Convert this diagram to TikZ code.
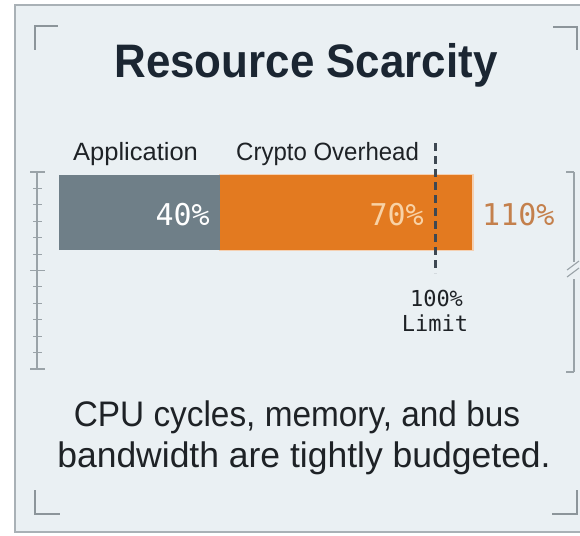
\documentclass[tikz,border=0pt]{standalone}
\usepackage{fontspec}
\setmainfont{Liberation Sans}
\newfontfamily\monofont{DejaVu Sans Mono}
\definecolor{panelbg}{HTML}{EAF0F3}
\definecolor{panelline}{HTML}{A9B1B6}
\definecolor{bracket}{HTML}{8C959A}
\definecolor{titleink}{HTML}{1B2632}
\definecolor{textink}{HTML}{1E2226}
\definecolor{appgrey}{HTML}{6F7F88}
\definecolor{cryptoorange}{HTML}{E37A20}
\definecolor{peach}{HTML}{F8D2A6}
\definecolor{overink}{HTML}{C4804C}
\definecolor{limitink}{HTML}{3E4852}
\definecolor{scaleink}{HTML}{9AA3A8}
\tikzset{
  cornerline/.style={draw=bracket, line width=1.6pt},
  scaleline/.style={draw=scaleink, line width=1.1pt},
  barlabel/.style={inner sep=0pt, text=textink, font=\fontsize{25}{29}\selectfont},
  pctlabel/.style={inner sep=0pt, font=\monofont\fontsize{30}{34}\selectfont},
  limitlabel/.style={inner sep=0pt, text=textink, font=\monofont\fontsize{22}{26}\selectfont},
  bodytext/.style={inner sep=0pt, text=textink, font=\fontsize{35.5}{42}\selectfont}
}
\begin{document}
\begin{tikzpicture}[x=1pt, y=-1pt]
\useasboundingbox (0,0) rectangle (580,535);
\fill[white] (0,0) rectangle (580,535);
% panel
\draw[panelline, fill=panelbg, line width=2pt] (15,5) rectangle (590,532);
% corner brackets
\draw[cornerline] (35,50) -- (35,26) -- (58,26);
\draw[cornerline] (553,27) -- (577,27) -- (577,50);
\draw[cornerline] (35,490) -- (35,514) -- (60,514);
\draw[cornerline] (552,514) -- (577,514) -- (577,490);
% title
\node[anchor=base, inner sep=0pt, text=titleink] (title) at (306,77)
  {\scalebox{0.934}[1]{\fontsize{47}{52}\selectfont\bfseries Resource Scarcity}};
% legend labels
\node[barlabel, anchor=base west] (applbl) at (73,160) {\scalebox{1.02}[1]{Application}};
\node[barlabel, anchor=base west] (cryptolbl) at (236,160) {\scalebox{0.96}[1]{Crypto Overhead}};
% bar segments
\fill[cryptoorange!35] (219,174) rectangle (473.5,251);
\fill[cryptoorange] (219,175) rectangle (472,250);
\fill[appgrey] (59,175) rectangle (220,250);
\node[pctlabel, text=white, anchor=east] (app) at (210,215) {40\%};
\node[pctlabel, text=peach, anchor=east] (crypto) at (424,215) {70\%};
\node[pctlabel, text=overink, anchor=west] (total) at (482,215) {110\%};
% 100% limit marker
\coordinate (limtop) at (435,143);
\coordinate (limbot) at (435,273);
\draw[limitink, line width=3pt, dash pattern=on 8pt off 5pt] (limtop) -- (limbot);
\node[limitlabel] (limpct) at (436.5,298) {100\%};
\node[limitlabel] (limtxt) at (435,323) {Limit};
% left ruler
\draw[scaleline] (37,172) -- (37,369);
\foreach \i in {0,...,12}{
  \pgfmathsetmacro{\yy}{172+\i*197/12}
  \ifnum\i=0 \draw[scaleline] (30,\yy) -- (45,\yy);
  \else\ifnum\i=6 \draw[scaleline] (30,\yy) -- (45,\yy);
  \else\ifnum\i=12 \draw[scaleline] (30,\yy) -- (45,\yy);
  \else \draw[scaleline] (33,\yy) -- (42,\yy);
  \fi\fi\fi
}
% right ruler with break
\draw[scaleline] (574,172) -- (574,262);
\draw[scaleline] (574,279) -- (574,372);
\draw[scaleline] (566,172) -- (574,172);
\draw[scaleline] (566,372) -- (574,372);
\draw[scaleline] (567,270) -- (579,261);
\draw[scaleline] (567,277) -- (579,268);
% caption
\node[bodytext] (line1) at (297,417) {\scalebox{0.94}[1]{CPU cycles, memory, and bus}};
\node[bodytext] (line2) at (304,458) {bandwidth are tightly budgeted.};
\end{tikzpicture}
\end{document}
